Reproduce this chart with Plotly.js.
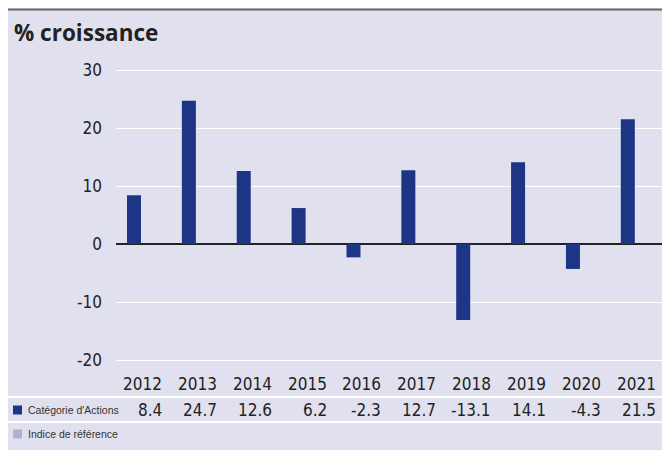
<!DOCTYPE html>
<html>
<head>
<meta charset="utf-8">
<script src="https://cdn.plot.ly/plotly-3.0.1.min.js"></script>
<style>html,body{margin:0;padding:0;background:#fff;}#chart{width:662px;height:450px;}</style>
</head>
<body>
<div id="chart"></div>
<script>
var years = ["2012","2013","2014","2015","2016","2017","2018","2019","2020","2021"];
var fundValues = [8.4, 24.7, 12.6, 6.2, -2.3, 12.7, -13.1, 14.1, -4.3, 21.5];
var fundLabels = ["8.4","24.7","12.6","6.2","-2.3","12.7","-13.1","14.1","-4.3","21.5"];
var legendNames = ["Catégorie d'Actions", "Indice de référence"];
var legendColors = ["#1c3584", "#aeb0d4"];
var yTicks = [-20, -10, 0, 10, 20, 30];

var W = 662, H = 450, L = 116, R = 0, T = 53, B = 80;
var pw = W - L - R, ph = H - T - B;
function px(x){ return (x - L) / pw; }
function py(y){ return (H - B - y) / ph; }

var numFont = {family: "DejaVu Sans Condensed, DejaVu Sans, sans-serif", size: 17, color: "#222"};
var bg = "#e0e0ee";

var annotations = [];
years.forEach(function(y, i){
  annotations.push({xref:"x", yref:"paper", x:i, y:py(384), xshift:30, xanchor:"right", yanchor:"middle",
    text:y, showarrow:false, font:numFont});
  annotations.push({xref:"x", yref:"paper", x:i, y:py(410), xshift:30, xanchor:"right", yanchor:"middle",
    text:fundLabels[i], showarrow:false, font:numFont});
});
legendNames.forEach(function(n, i){
  annotations.push({xref:"paper", yref:"paper", x:px(26), y:py(410 + 24*i), xanchor:"left", yanchor:"middle",
    text:n, showarrow:false, font:{family:"Liberation Sans, Arial, sans-serif", size:10.5, color:"#333"}});
});

var shapes = [
  {type:"rect", xref:"paper", yref:"paper", x0:px(0), x1:px(8), y0:py(450), y1:py(0), fillcolor:"#fff", line:{width:0}, layer:"below"},
  {type:"rect", xref:"paper", yref:"paper", x0:px(0), x1:px(662), y0:py(8.5), y1:py(0), fillcolor:"#fff", line:{width:0}, layer:"below"},
  {type:"line", xref:"paper", yref:"paper", x0:px(8), x1:px(662), y0:py(9.5), y1:py(9.5), line:{color:"#666", width:2}},
  {type:"line", xref:"paper", yref:"paper", x0:px(8), x1:px(662), y0:py(397), y1:py(397), line:{color:"#fff", width:2}},
  {type:"line", xref:"paper", yref:"paper", x0:px(8), x1:px(662), y0:py(422), y1:py(422), line:{color:"#fff", width:2}}
];
legendColors.forEach(function(c, i){
  var cy = 410 + 24*i;
  shapes.push({type:"rect", xref:"paper", yref:"paper", x0:px(13), x1:px(22), y0:py(cy+4.5), y1:py(cy-4.5),
    fillcolor:c, line:{width:0}});
});

var data = [{
  type:"bar", x:years, y:fundValues, marker:{color:legendColors[0]}, hoverinfo:"x+y"
}];

var layout = {
  width:W, height:H,
  margin:{l:L, r:R, t:T, b:B, pad:0},
  paper_bgcolor:bg, plot_bgcolor:bg,
  showlegend:false,
  bargap:0.745,
  title:{text:"% croissance", xref:"container", yref:"container", x:14/W, y:1-33/H, xanchor:"left", yanchor:"middle",
    font:{family:"Open Sans, Noto Sans, sans-serif", size:22.5, weight:700, color:"#222"}},
  xaxis:{type:"category", range:[-0.328, 9.623], showticklabels:false, showgrid:false, zeroline:false, ticks:"", fixedrange:true},
  yaxis:{range:[-20 - 10/5.8, 30 + 17/5.8], tickvals:yTicks, ticktext:yTicks.map(String), showgrid:true, gridcolor:"#fff", gridwidth:1,
    zeroline:true, zerolinecolor:"#222", zerolinewidth:1.5, ticks:"", ticklabelstandoff:13, tickfont:numFont, fixedrange:true},
  annotations:annotations,
  shapes:shapes
};
Plotly.newPlot("chart", data, layout, {displayModeBar:false, staticPlot:true});
</script>
</body>
</html>
